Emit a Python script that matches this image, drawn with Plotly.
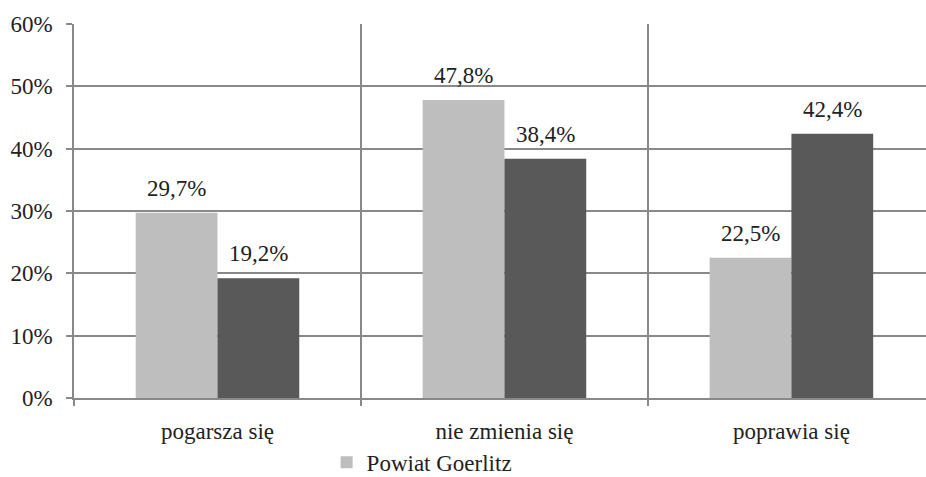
import plotly.graph_objects as go

categories = ["pogarsza się", "nie zmienia się", "poprawia się"]
goerlitz = [29.7, 47.8, 22.5]
zgorzelec = [19.2, 38.4, 42.4]
y_ticks = [0, 10, 20, 30, 40, 50, 60]
y_tick_labels = [f"{v}%" for v in y_ticks]

font_name = "Liberation Serif"
text_col = "#222222"
grid_col = "#898989"

fig = go.Figure()
fig.add_trace(go.Bar(x=categories, y=goerlitz, name="Powiat Goerlitz",
                     marker=dict(color="#bebebe", line=dict(width=0))))
fig.add_trace(go.Bar(x=categories, y=zgorzelec, name="Powiat zgorzelecki",
                     marker=dict(color="#595959", line=dict(width=0)),
                     showlegend=False))

# value labels above the bars
for series, shift in [(goerlitz, -41), (zgorzelec, 41)]:
    for cat, val in zip(categories, series):
        fig.add_annotation(x=cat, y=val, text=f"{val:.1f}%".replace(".", ","),
                           showarrow=False, xshift=shift, yshift=10,
                           yanchor="bottom",
                           font=dict(family=font_name, size=23, color=text_col))

fig.update_layout(
    width=926, height=477,
    margin=dict(l=74, r=0, t=24, b=79, autoexpand=False),
    paper_bgcolor="white", plot_bgcolor="white",
    barmode="group", bargap=0.43, bargroupgap=0,
    font=dict(family=font_name, size=23, color=text_col),
    legend=dict(orientation="h", x=0.408, xanchor="center", y=-0.172,
                yanchor="middle", font=dict(family=font_name, size=23),
                itemwidth=30),
)
fig.update_xaxes(
    type="category", range=[-0.5, 2.469], automargin=False,
    showline=True, linecolor=grid_col, linewidth=1.5,
    showgrid=True, gridcolor=grid_col, gridwidth=1.5,
    tickson="boundaries", ticks="outside", ticklen=6, tickcolor=grid_col,
    tickwidth=1.5, ticklabelstandoff=12,
    tickfont=dict(family=font_name, size=23, color=text_col),
)
fig.update_yaxes(
    range=[0, 60], tickvals=y_ticks, ticktext=y_tick_labels, automargin=False,
    showline=True, linecolor=grid_col, linewidth=1.5,
    showgrid=True, gridcolor=grid_col, gridwidth=1.5,
    ticks="outside", ticklen=6, tickcolor=grid_col, tickwidth=1.5,
    ticklabelstandoff=9, zeroline=False,
    tickfont=dict(family=font_name, size=23, color=text_col),
)

fig.write_html("out.html", config={"displayModeBar": False},
               post_script="document.body.style.margin='0';")
